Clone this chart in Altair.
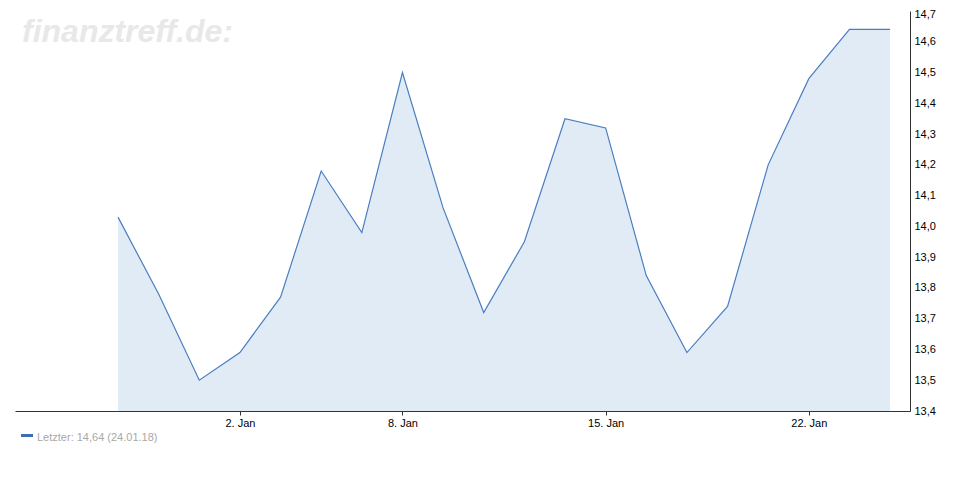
import altair as alt
import pandas as pd

# Trading days (Dec 27, 2017 - Jan 24, 2018)
dates = ["27.12.17", "28.12.17", "29.12.17", "02.01.18", "03.01.18", "04.01.18",
         "05.01.18", "08.01.18", "09.01.18", "10.01.18", "11.01.18", "12.01.18",
         "15.01.18", "16.01.18", "17.01.18", "18.01.18", "19.01.18", "22.01.18",
         "23.01.18", "24.01.18"]
prices = [14.03, 13.78, 13.50, 13.59, 13.77, 14.18, 13.98, 14.50, 14.06, 13.72,
          13.95, 14.35, 14.32, 13.84, 13.59, 13.74, 14.20, 14.48, 14.64, 14.64]
tick_index = [3, 7, 12, 17]
tick_labels = ["2. Jan", "8. Jan", "15. Jan", "22. Jan"]
y_ticks = [13.4, 13.5, 13.6, 13.7, 13.8, 13.9, 14.0, 14.1, 14.2, 14.3, 14.4, 14.5, 14.6, 14.7]
y_min, y_max = 13.4, 14.7

df = pd.DataFrame({"i": list(range(len(prices))), "date": dates, "price": prices})

W, H = 895, 400
FONT = "Liberation Sans"

label_map = "{" + ", ".join(f"'{i}': '{l}'" for i, l in zip(tick_index, tick_labels)) + "}"

x = alt.X("i:Q",
          scale=alt.Scale(domain=[-2.535, 19.49], nice=False, zero=False),
          axis=alt.Axis(values=tick_index, labelExpr=f"{label_map}[toString(datum.value)]",
                        title=None, grid=False, domainColor="#333333", tickColor="#333333",
                        tickSize=4, labelColor="#000000", labelFontSize=11, labelFont=FONT,
                        labelPadding=2))
top_test = f"datum.value >= {y_max - 0.01}"
y = alt.Y("price:Q",
          scale=alt.Scale(domain=[y_min, y_max], nice=False, zero=False),
          axis=alt.Axis(orient="right", values=y_ticks,
                        labelExpr="replace(format(datum.value, '.1f'), '.', ',')",
                        labelBaseline={"condition": {"test": top_test, "value": "top"},
                                       "value": "middle"},
                        labelOffset={"condition": {"test": top_test, "value": -3},
                                     "value": 0},
                        title=None, grid=False, domainColor="#333333", ticks=False,
                        tickSize=0, labelColor="#000000", labelFontSize=11, labelFont=FONT,
                        labelPadding=4))

area = alt.Chart(df).mark_area(color="#e1ebf6", opacity=1).encode(
    x=x, y=y, y2=alt.datum(y_min))
line = alt.Chart(df).mark_line(color="#4a7ec0", strokeWidth=1.2).encode(x=x, y=y)

watermark = alt.Chart(pd.DataFrame({"t": ["finanztreff.de:"]})).mark_text(
    font=FONT, fontSize=32, fontWeight="bold", fontStyle="italic", color="#e8e8e8",
    align="left", baseline="alphabetic"
).encode(text="t:N", x=alt.value(7), y=alt.value(31))

last_label = f"Letzter: {str(prices[-1]).replace('.', ',')} ({dates[-1]})"
legend_mark = alt.Chart(pd.DataFrame({"a": [0]})).mark_rule(
    color="#3a6db4", strokeWidth=3
).encode(x=alt.value(6), x2=alt.value(18), y=alt.value(424.5))
legend_text = alt.Chart(pd.DataFrame({"t": [last_label]})).mark_text(
    font=FONT, fontSize=11, color="#a8a8a8", align="left", baseline="middle"
).encode(text="t:N", x=alt.value(22), y=alt.value(427))

chart = alt.layer(area, line, watermark, legend_mark, legend_text).properties(
    width=W, height=H,
    background="white",
    autosize=alt.AutoSizeParams(type="none"),
    padding={"left": 7, "top": 3, "right": 50, "bottom": 70},
).configure_view(stroke=None)

chart.save("out.html", embed_options={"renderer": "svg", "actions": False})
